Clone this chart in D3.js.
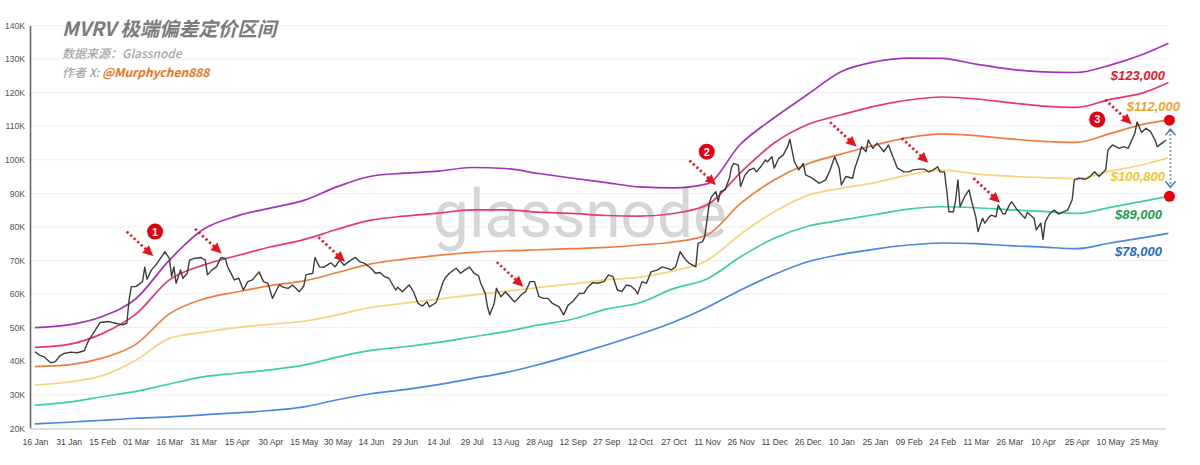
<!DOCTYPE html>
<html>
<head>
<meta charset="utf-8">
<script src="https://cdn.jsdelivr.net/npm/d3@7"></script>
<style>
  body { margin: 0; background: #fff; }
  svg { display: block; font-family: "Liberation Sans", Arial, sans-serif; }
</style>
</head>
<body>
<div id="chart"></div>
<script>
// x axis tick dates (every 15 days)
var xTickDates = ["2024-01-16","2024-01-31","2024-02-15","2024-03-01","2024-03-16","2024-03-31",
  "2024-04-15","2024-04-30","2024-05-15","2024-05-30","2024-06-14","2024-06-29","2024-07-14",
  "2024-07-29","2024-08-13","2024-08-28","2024-09-12","2024-09-27","2024-10-12","2024-10-27",
  "2024-11-11","2024-11-26","2024-12-11","2024-12-26","2025-01-10","2025-01-25","2025-02-09",
  "2025-02-24","2025-03-11","2025-03-26","2025-04-10","2025-04-25","2025-05-10","2025-05-25"];
var yTicks = [20000,30000,40000,50000,60000,70000,80000,90000,100000,110000,120000,130000,140000];

// band sample dates (same as ticks + last day)
var bandDates = xTickDates.concat(["2025-06-05"]);
// band values, in K USD
var bandPurple = [50.0,50.8,53.3,58.6,70.1,79.2,83.2,85.6,87.9,92.0,95.1,96.0,96.6,97.7,97.4,95.9,94.5,93.2,91.9,91.6,92.8,104.7,112.5,119.5,126.3,129.2,130.3,130.2,128.5,127.0,126.2,126.0,128.2,131.5,134.7];
var bandPink   = [44.1,45.0,48.2,54.0,64.2,68.6,71.4,74.0,76.2,79.3,82.0,83.2,84.1,85.1,85.1,84.4,84.0,83.4,83.2,84.0,86.5,96.2,105.0,110.5,113.4,116.0,117.8,118.7,118.1,117.0,116.0,115.6,118.0,120.0,123.0];
var bandOrange = [38.4,38.9,40.9,45.0,54.1,58.5,60.6,62.5,63.9,66.4,69.0,70.4,71.5,72.4,72.9,73.2,73.5,73.9,74.6,75.5,77.6,87.0,94.0,98.8,101.7,104.4,106.6,107.7,107.2,106.2,105.5,105.2,107.8,110.6,111.8];
var bandYellow = [32.9,33.8,35.7,40.3,46.8,48.6,50.0,51.0,51.9,53.8,56.0,57.3,58.5,59.7,60.8,62.0,63.0,64.2,65.0,66.9,70.0,77.8,84.5,89.4,91.5,93.2,95.5,96.9,95.8,95.1,94.7,94.4,96.6,98.6,100.6];
var bandTeal   = [26.9,27.8,29.4,31.0,33.2,35.3,36.4,37.4,38.8,41.2,43.2,44.3,45.6,47.2,48.8,50.8,52.5,55.5,57.4,61.6,64.5,71.1,76.6,80.2,82.0,83.7,85.3,86.0,85.7,85.1,84.6,84.0,85.8,87.7,89.1];
var bandBlue   = [21.3,21.8,22.4,23.0,23.4,24.0,24.6,25.3,26.4,28.5,30.3,31.5,33.0,34.8,36.6,39.0,41.8,44.8,48.0,51.6,56.0,61.2,65.8,69.6,71.8,73.4,74.6,75.2,75.0,74.4,74.0,73.5,75.2,76.8,78.1];

// BTC price: days after 16 Jan 2024, value in K USD
var priceDay = [0,2,4,7,9,11,13,16,19,22,24,26,29,33,36,39,41,42,43,45,48,49,50,52,54,57,58,60,61,62,63,65,66,68,69,71,74,76,77,79,
  81,83,85,86,89,91,93,95,97,100,102,104,106,109,111,113,115,118,120,121,124,125,127,129,132,134,136,138,141,143,
  145,147,150,152,154,156,158,161,162,164,167,169,171,173,175,176,179,180,182,183,185,188,190,192,194,196,198,199,201,202,
  203,205,206,208,210,212,214,215,217,219,221,223,225,227,229,231,234,236,238,240,243,245,247,249,251,254,256,258,260,262,
  264,266,268,269,271,273,275,278,280,282,284,286,288,290,292,295,296,298,299,301,302,304,305,306,308,310,311,312,314,315,
  317,319,321,322,324,326,327,329,330,332,334,336,337,339,341,343,344,347,348,350,353,355,357,359,360,362,365,366,368,369,
  371,372,374,376,379,381,383,385,388,390,392,395,397,399,401,403,404,406,407,408,410,411,412,413,415,417,418,420,421,423,
  424,426,427,429,430,432,433,435,436,438,440,442,443,446,447,449,450,451,453,455,457,459,461,463,464,466,469,471,473,475,
  478,479,481,484,486,488,490,491,492,494,496,498,500,501,503,505];
var priceK = [42.8,41.8,41.3,39.5,39.8,41.5,42.3,42.7,42.5,43.1,46.3,48.3,51.5,51.8,51.3,50.8,51.3,58.2,62.2,62.2,63.7,68.0,64.4,67.2,68.7,71.6,72.6,70.6,65.2,68.1,63.2,67.2,64.7,66.2,70.1,70.6,70.9,70.1,65.7,67.2,
  68.1,70.9,70.6,68.1,64.2,64.7,61.2,63.7,64.2,66.6,63.7,63.2,58.7,62.7,62.0,61.7,62.7,60.7,62.4,65.7,66.2,70.9,68.1,68.0,69.3,68.1,70.1,68.6,70.1,70.9,
  69.6,69.2,67.7,66.2,66.4,65.2,64.7,61.2,62.0,60.7,62.7,60.7,57.2,56.4,57.7,56.2,57.4,59.2,63.2,64.7,66.2,67.7,66.2,67.2,68.0,66.2,65.4,63.2,60.2,56.2,
  53.8,57.2,61.7,59.2,60.7,59.2,57.7,58.2,59.7,60.7,63.7,63.7,59.2,58.7,58.7,57.2,56.2,53.8,56.7,57.7,60.2,60.2,62.2,63.4,63.2,63.7,65.7,65.2,61.2,60.7,
  62.7,62.4,61.2,60.0,63.7,63.2,66.6,67.2,68.1,67.7,67.2,68.1,72.6,70.6,69.2,68.1,75.1,75.6,77.1,87.0,89.0,90.5,87.5,90.5,91.0,94.5,97.9,98.9,98.4,92.0,
  95.5,97.0,97.5,96.4,97.9,99.9,99.4,100.9,97.5,100.4,101.4,103.9,106.1,99.4,97.0,98.9,95.5,94.5,94.0,93.0,94.0,97.0,100.9,97.5,92.5,95.0,94.5,97.5,101.4,103.9,
  102.4,105.9,103.4,104.9,102.4,104.4,100.9,97.5,96.4,96.4,97.0,97.2,97.2,96.4,97.0,97.9,96.4,96.4,91.0,84.5,84.5,88.0,94.0,86.0,89.0,91.0,88.0,83.0,78.6,82.6,
  81.1,83.0,83.5,83.0,86.5,84.0,83.8,86.5,87.5,85.5,84.0,82.6,84.3,82.6,79.1,81.1,76.3,81.5,84.0,85.0,83.8,84.5,85.0,88.0,94.0,94.5,94.2,95.0,96.4,95.0,
  97.0,102.9,104.4,103.4,103.9,103.4,106.4,107.9,111.3,108.1,109.4,108.4,105.9,103.9,104.9,105.9];

// annotations: arrow tips [day, K], numbered markers [label, day, K]
var arrowTips = [[52.8,71.3],[83.3,72.1],[138.4,69.6],[218,62.2],[304,92.5],[366.8,103.9],[398.8,99.1],[430.8,87.2],[489.6,110.6]];
var badges = [["1",53.6,78.6],["2",299.9,102.4],["3",474.2,112.0]];
var endLabels = [
  { text: "$123,000", color: "#e5172d", x: 1165, y: 80 },
  { text: "$112,000", color: "#f2a22e", x: 1180, y: 111 },
  { text: "$100,800", color: "#f7c62a", x: 1165, y: 181 },
  { text: "$89,000",  color: "#1a9a4c", x: 1162, y: 219 },
  { text: "$78,000",  color: "#1f6cc0", x: 1162, y: 256 }
];

var width = 1200, height = 465;
var parse = d3.utcParse("%Y-%m-%d");
var start = parse("2024-01-16"), end = parse("2025-06-05");

var svg = d3.select("#chart").append("svg")
  .attr("width", width).attr("height", height);

var x = d3.scaleUtc().domain([start, end]).range([35, 35 + 506 * 2.24]);
var y = d3.scaleLinear().domain([20000, 140000]).range([428.3, 25.5]);
function xDay(d) { return x(d3.utcDay.offset(start, Math.floor(d))) + (d % 1) * 2.24; }

// grid
svg.append("g").selectAll("line").data(yTicks).enter().append("line")
  .attr("x1", 30).attr("x2", 1166)
  .attr("y1", function (d) { return y(d); }).attr("y2", function (d) { return y(d); })
  .attr("stroke", "#efefef").attr("stroke-width", 1);

// watermark
svg.append("text")
  .attr("x", 433).attr("y", 237)
  .attr("textLength", 294).attr("lengthAdjust", "spacingAndGlyphs")
  .style("font-family", "Roboto, 'Open Sans', sans-serif")
  .style("font-size", "66px").style("font-weight", 400)
  .attr("fill", "#d6d6d6")
  .text("glassnode");

// axes
var yAxis = svg.append("g").attr("transform", "translate(30,0)")
  .call(d3.axisLeft(y).tickValues(yTicks).tickSize(0).tickPadding(5)
    .tickFormat(function (d) { return d / 1000 + "K"; }));
yAxis.select(".domain").attr("stroke", "#666").attr("stroke-width", 1.6);
yAxis.selectAll("text").style("font-size", "8.6px").attr("fill", "#555");

svg.append("line").attr("x1", 30).attr("x2", 1166).attr("y1", 429).attr("y2", 429)
  .attr("stroke", "#d4d4d4").attr("stroke-width", 1.5);

var xAxis = svg.append("g").attr("transform", "translate(0,429)")
  .call(d3.axisBottom(x).tickValues(xTickDates.map(parse)).tickSize(0).tickPadding(10)
    .tickFormat(d3.utcFormat("%d %b")));
xAxis.select(".domain").remove();
xAxis.selectAll("text").style("font-size", "8.6px").attr("fill", "#444");

// bands
var bands = [
  { vals: bandBlue, color: "#4b86e2" },
  { vals: bandTeal, color: "#3ecf9f" },
  { vals: bandYellow, color: "#fbd27c" },
  { vals: bandOrange, color: "#ef7e3e" },
  { vals: bandPink, color: "#e8386c" },
  { vals: bandPurple, color: "#a532bd" }
];
var bandLine = d3.line()
  .x(function (d, i) { return x(parse(bandDates[i])); })
  .y(function (d) { return y(d * 1000); })
  .curve(d3.curveMonotoneX);
svg.append("g").selectAll("path").data(bands).enter().append("path")
  .attr("d", function (b) { return bandLine(b.vals); })
  .attr("fill", "none")
  .attr("stroke", function (b) { return b.color; })
  .attr("stroke-width", 1.7);

// price
var priceLine = d3.line()
  .x(function (d, i) { return xDay(priceDay[i]); })
  .y(function (d) { return y(d * 1000); });
svg.append("path").attr("d", priceLine(priceK))
  .attr("fill", "none").attr("stroke", "#3d3d3d").attr("stroke-width", 1.4)
  .attr("stroke-linejoin", "round");

// red dotted arrows
var ann = svg.append("g");
arrowTips.forEach(function (a) {
  var tx = xDay(a[0]), ty = y(a[1] * 1000);
  var sx = tx - 26.5, sy = ty - 24.5;
  var len = Math.sqrt(26.5 * 26.5 + 24.5 * 24.5), ux = 26.5 / len, uy = 24.5 / len;
  ann.append("line")
    .attr("x1", sx).attr("y1", sy).attr("x2", tx - ux * 8).attr("y2", ty - uy * 8)
    .attr("stroke", "#e8141c").attr("stroke-width", 2.6)
    .attr("stroke-dasharray", "2.2,2.6");
  var bx = tx - ux * 10.5, by = ty - uy * 10.5, px = -uy * 5, py = ux * 5;
  ann.append("path")
    .attr("d", "M" + tx + "," + ty + "L" + (bx + px) + "," + (by + py) + "L" + (bx - px) + "," + (by - py) + "Z")
    .attr("fill", "#e8141c");
});

// numbered badges
badges.forEach(function (b) {
  var bx = xDay(b[1]), by = y(b[2] * 1000);
  ann.append("circle").attr("cx", bx).attr("cy", by).attr("r", 8).attr("fill", "#e3000f");
  ann.append("text").attr("x", bx).attr("y", by + 4).attr("text-anchor", "middle")
    .style("font-size", "11px").style("font-weight", "bold").attr("fill", "#fff").text(b[0]);
});

// end markers and double arrow
var topV = bandOrange[bandOrange.length - 1] * 1000, botV = bandTeal[bandTeal.length - 1] * 1000;
var ex = x(end) + 1;
ann.append("line").attr("x1", ex + 1).attr("x2", ex + 1).attr("y1", y(topV) + 10).attr("y2", y(botV) - 10)
  .attr("stroke", "#4f7db5").attr("stroke-width", 1.8).attr("stroke-dasharray", "1.6,2.4");
ann.append("path")
  .attr("d", "M" + (ex - 4) + "," + (y(topV) + 15) + "L" + (ex + 1) + "," + (y(topV) + 9) + "L" + (ex + 6) + "," + (y(topV) + 15))
  .attr("fill", "none").attr("stroke", "#4f7db5").attr("stroke-width", 1.5);
ann.append("path")
  .attr("d", "M" + (ex - 4) + "," + (y(botV) - 15) + "L" + (ex + 1) + "," + (y(botV) - 9) + "L" + (ex + 6) + "," + (y(botV) - 15))
  .attr("fill", "none").attr("stroke", "#4f7db5").attr("stroke-width", 1.5);
[topV, botV].forEach(function (v) {
  ann.append("circle").attr("cx", ex).attr("cy", y(v)).attr("r", 5.5).attr("fill", "#e8000e");
});

// end labels
svg.append("g").selectAll("text").data(endLabels).enter().append("text")
  .attr("x", function (d) { return d.x; }).attr("y", function (d) { return d.y; })
  .attr("text-anchor", "end")
  .style("font-size", "13px").style("font-weight", "bold").style("font-style", "italic")
  .attr("fill", function (d) { return d.color; })
  .text(function (d) { return d.text; });

// titles
var cjk = "'Noto Sans CJK SC', 'Liberation Sans', sans-serif";
svg.append("text").attr("x", 62).attr("y", 36)
  .style("font-family", cjk).style("font-size", "19.5px").style("font-weight", "bold").style("font-style", "italic")
  .attr("fill", "#7b7b7b").text("MVRV 极端偏差定价区间");
svg.append("text").attr("x", 62).attr("y", 58)
  .style("font-family", cjk).style("font-size", "12px").style("font-style", "italic").style("font-weight", 500)
  .attr("fill", "#a6a6a6").text("数据来源：Glassnode");
var au = svg.append("text").attr("x", 62).attr("y", 77)
  .style("font-family", cjk).style("font-size", "12px").style("font-style", "italic");
au.append("tspan").attr("fill", "#a6a6a6").style("font-weight", 500).text("作者 X:  ");
au.append("tspan").attr("fill", "#f0741a").style("font-weight", "bold").text("@Murphychen888");
</script>
</body>
</html>
